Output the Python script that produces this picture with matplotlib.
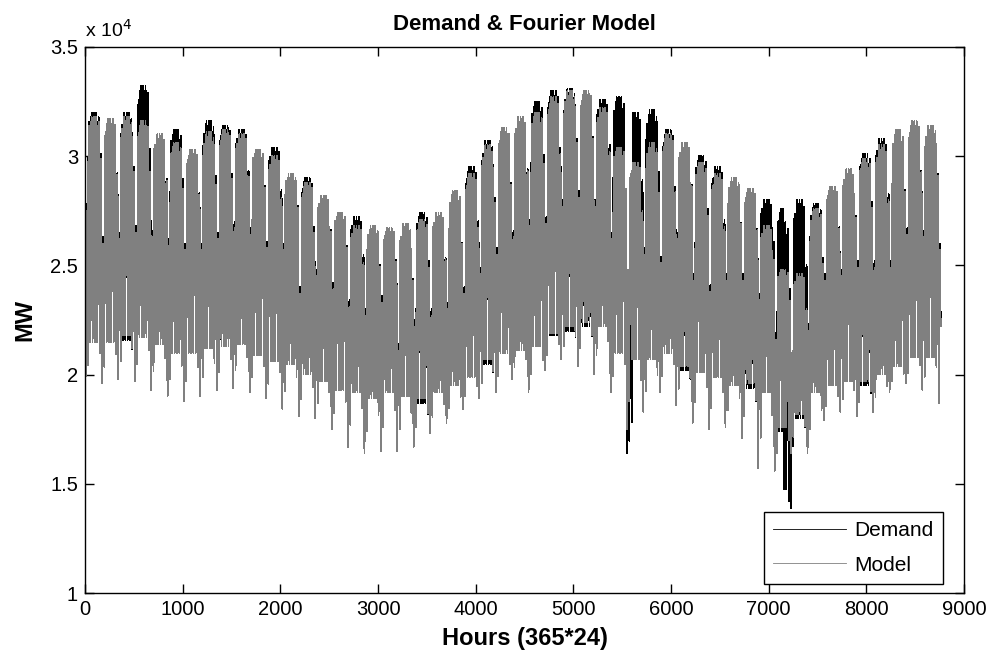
import numpy as np
import matplotlib
matplotlib.use("Agg")
import matplotlib.pyplot as plt

plt.rcParams['font.family'] = ['Liberation Sans', 'DejaVu Sans']

# weekly values, units of 10^4 MW (week k = hours 168k .. 168k+167)
mod_peak = [3.18, 3.17, 3.18, 3.16, 3.10, 3.06, 3.03, 3.11, 3.12,
            3.10, 3.03, 3.00, 2.92, 2.88, 2.82, 2.74, 2.68, 2.68,
            2.67, 2.69, 2.71, 2.74, 2.84, 2.92, 3.05, 3.13, 3.18,
            3.20, 3.27, 3.30, 3.30, 3.22, 3.04, 2.97, 3.06, 3.10,
            3.06, 2.97, 2.92, 2.90, 2.85, 2.68, 2.48, 2.46, 2.76,
            2.86, 2.94, 2.99, 3.05, 3.12, 3.16, 3.14, 3.03]
mod_sun = [2.75, 2.60, 2.62, 2.65, 2.63, 2.59, 2.57, 2.57, 2.62,
           2.67, 2.64, 2.58, 2.57, 2.37, 2.45, 2.39, 2.31, 2.27,
           2.33, 2.11, 2.22, 2.27, 2.30, 2.37, 2.46, 2.55, 2.63,
           2.68, 2.69, 2.77, 2.81, 2.77, 2.62, 2.48, 2.55, 2.51,
           2.62, 2.43, 2.38, 2.43, 2.43, 2.34, 2.16, 2.11, 2.20,
           2.43, 2.45, 2.49, 2.49, 2.49, 2.64, 2.63, 2.57]
mod_trough = [2.15, 2.15, 2.18, 2.17, 2.14, 2.10, 2.10, 2.12, 2.13,
              2.14, 2.09, 2.06, 2.05, 2.00, 1.97, 1.93, 1.92, 1.89,
              1.92, 1.90, 1.89, 1.92, 1.95, 1.99, 2.07, 2.10, 2.11,
              2.13, 2.19, 2.22, 2.24, 2.22, 2.10, 2.07, 2.07, 2.10,
              2.04, 2.01, 1.99, 1.95, 1.96, 1.92, 1.76, 1.82, 1.92,
              1.95, 1.97, 1.97, 2.00, 2.04, 2.08, 2.08, 1.92]
mod_low = [1.97, 1.96, 1.98, 1.97, 1.93, 1.90, 1.88, 1.90, 1.93,
           1.94, 1.92, 1.89, 1.84, 1.81, 1.80, 1.75, 1.67, 1.64,
           1.65, 1.65, 1.67, 1.73, 1.78, 1.84, 1.89, 1.92, 1.98,
           1.92, 2.02, 2.07, 2.04, 2.00, 1.92, 1.75, 1.83, 1.92,
           1.86, 1.78, 1.75, 1.76, 1.71, 1.57, 1.56, 1.64, 1.64,
           1.79, 1.83, 1.81, 1.83, 1.92, 1.96, 1.93, 1.87]
dem_peak = [3.20, 3.16, 3.20, 3.32, 3.09, 3.12, 3.02, 3.16, 3.14,
            3.12, 3.02, 3.04, 2.91, 2.90, 2.81, 2.73, 2.72, 2.67,
            2.66, 2.68, 2.74, 2.73, 2.83, 2.95, 3.07, 3.12, 3.17,
            3.25, 3.30, 3.31, 3.29, 3.26, 3.27, 3.20, 3.21, 3.12,
            3.05, 3.00, 2.95, 2.89, 2.84, 2.80, 2.76, 2.80, 2.78,
            2.85, 2.93, 3.01, 3.08, 3.11, 3.15, 3.13, 3.02]
dem_trough = [2.16, 2.16, 2.16, 2.18, 2.15, 2.11, 2.11, 2.13, 2.14,
              2.15, 2.10, 2.07, 2.06, 2.01, 1.98, 1.94, 1.93, 1.90,
              1.93, 1.91, 1.87, 1.93, 1.96, 2.00, 2.05, 2.11, 2.12,
              2.14, 2.18, 2.20, 2.22, 2.23, 2.11, 2.08, 2.08, 2.11,
              2.02, 2.02, 2.00, 1.96, 1.94, 1.93, 1.74, 1.80, 1.93,
              1.96, 1.98, 1.95, 2.01, 2.05, 2.09, 2.09, 1.90]

# demand outages (hour range, peak, trough)
event_start = [5530, 7150]
event_end = [5610, 7250]
event_peak = [2.30, 2.70]
event_trough = [1.64, 1.39]

# typical hourly shape of a day, 0 = night low, 1 = evening peak
day_shape = [0.35, 0.20, 0.10, 0.03, 0.00, 0.05, 0.20, 0.45, 0.70, 0.85, 0.92, 0.97,
             0.98, 0.97, 0.95, 0.93, 0.93, 0.96, 1.00, 0.98, 0.92, 0.82, 0.68, 0.50]
# day of week (0 = Sunday): share of weekday peak, share of weekend low
peak_share = [0.0, 0.9, 1.0, 1.0, 1.0, 0.95, 0.55]
low_share = [1.0, 0.6, 0.0, 0.0, 0.0, 0.0, 0.3]

n_hours = 365 * 24


def build(peak, sun, trough, low):
    out = np.zeros(n_hours)
    shape = np.array(day_shape)
    for d in range(365):
        w = min(d // 7, len(peak) - 1)
        dow = d % 7
        top = sun[w] + peak_share[dow] * (peak[w] - sun[w])
        bot = trough[w] + low_share[dow] * (low[w] - trough[w])
        out[d * 24:(d + 1) * 24] = bot + (top - bot) * shape
    return out


model = build(mod_peak, mod_sun, mod_trough, mod_low)
demand = build(dem_peak, [s + 0.03 for s in mod_sun], dem_trough,
               [l + 0.03 for l in mod_low])
for s, e, p, t in zip(event_start, event_end, event_peak, event_trough):
    seg = demand[s:e]
    demand[s:e] = t + (p - t) * (seg - seg.min()) / (seg.max() - seg.min())

hours = np.arange(1, n_hours + 1)

fig = plt.figure(figsize=(9.9, 6.57), dpi=100)
ax = fig.add_axes([0.0859, 0.0974, 0.8879, 0.8311])

ax.plot(hours, demand, color='black', lw=0.6, antialiased=False, label='Demand')
ax.plot(hours, model, color='#808080', lw=0.6, antialiased=False, label='Model')

ax.set_xlim(0, 9000)
ax.set_ylim(1, 3.5)
ax.set_xticks(np.arange(0, 9001, 1000))
ax.set_yticks([1, 1.5, 2, 2.5, 3, 3.5])
ax.set_yticklabels(['1', '1.5', '2', '2.5', '3', '3.5'])
ax.tick_params(which='both', direction='in', top=True, right=True, length=6.5,
               width=1, labelsize=14.5, pad=5, colors='black')
for sp in ax.spines.values():
    sp.set_linewidth(1)

ax.set_title('Demand & Fourier Model', fontsize=16, fontweight='bold', pad=12)
ax.set_xlabel('Hours (365*24)', fontsize=17, fontweight='bold', labelpad=6)
ax.set_ylabel('MW', fontsize=17, fontweight='bold', labelpad=10)
ax.text(0.0, 1.012, 'x 10$^{4}$', transform=ax.transAxes, fontsize=14,
        ha='left', va='bottom')

leg = ax.legend(loc='lower right', bbox_to_anchor=(0.976, 0.0165), borderaxespad=0,
                fontsize=15, handlelength=3.5, handletextpad=0.4, labelspacing=0.75,
                borderpad=0.45, fancybox=False, framealpha=1, edgecolor='black')
leg.get_frame().set_linewidth(1)

fig.set_facecolor('white')
plt.savefig('out.png', dpi=100)
